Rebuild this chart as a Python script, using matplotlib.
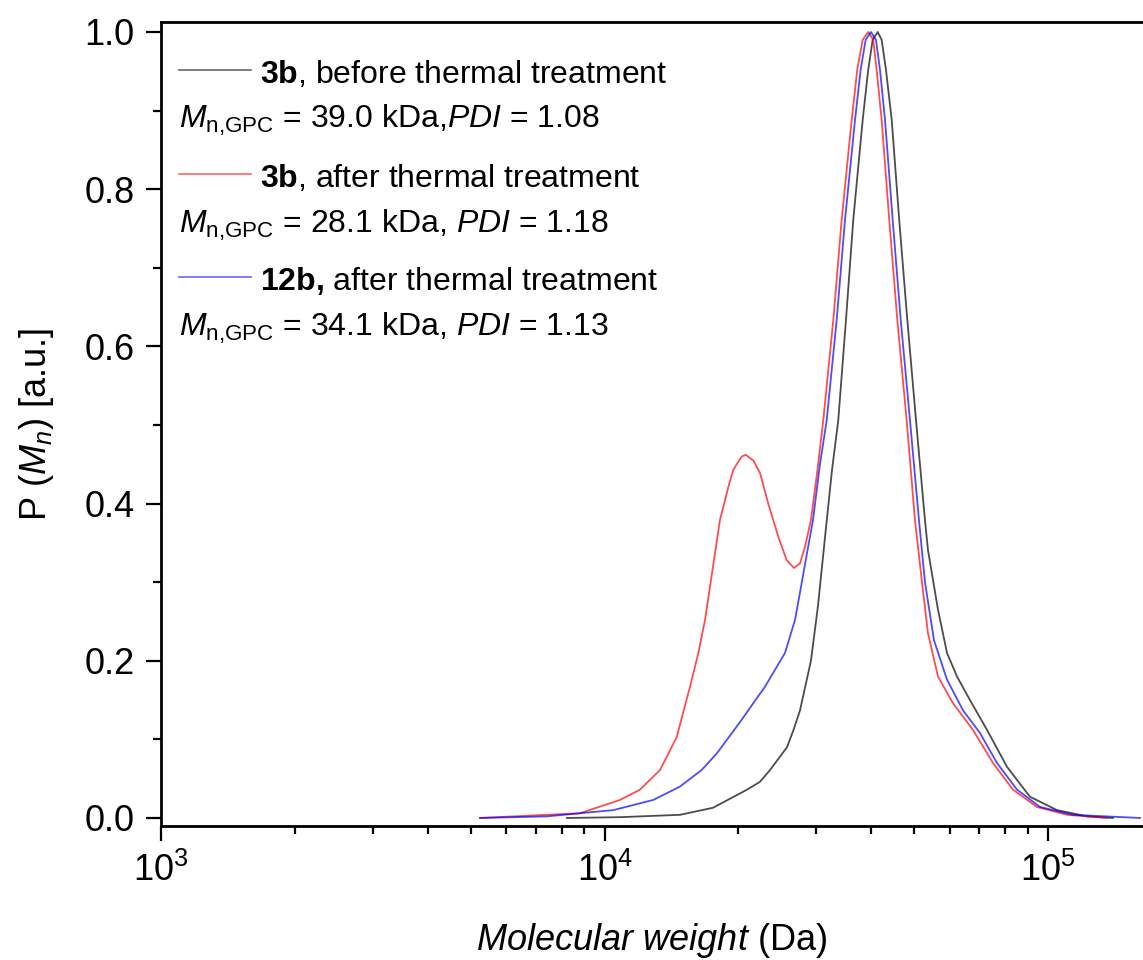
import matplotlib

matplotlib.use("Agg")
import matplotlib.pyplot as plt
from matplotlib.ticker import LogLocator, MultipleLocator, NullFormatter

plt.rcParams["font.family"] = ["Liberation Sans", "DejaVu Sans"]
plt.rcParams["mathtext.fontset"] = "custom"
plt.rcParams["mathtext.rm"] = "Liberation Sans"
plt.rcParams["mathtext.it"] = "Liberation Sans:italic"
plt.rcParams["mathtext.bf"] = "Liberation Sans:bold"

# molecular weight (Da) and normalised distribution
MW_3B_BEFORE = [8230, 10840, 14800, 17570, 20960, 22420, 23620, 25790, 26680, 27600,
                29210, 30300, 31420, 32590, 33660, 35040, 36390, 38210, 39330, 40240,
                41300, 42170, 43120, 44430, 46190, 48170, 50400, 52800, 53630, 56490,
                59200, 62350, 66700, 72880, 80850, 91070, 104800, 122400, 140100]
P_3B_BEFORE = [0.000, 0.001, 0.004, 0.013, 0.036, 0.046, 0.061, 0.090, 0.112, 0.137,
               0.200, 0.270, 0.357, 0.443, 0.506, 0.634, 0.761, 0.888, 0.952, 0.990,
               1.000, 0.990, 0.952, 0.888, 0.761, 0.634, 0.506, 0.379, 0.341, 0.265,
               0.210, 0.180, 0.150, 0.112, 0.065, 0.027, 0.010, 0.002, 0.000]

MW_3B_AFTER = [5240, 8805, 10840, 12020, 13340, 14550, 15590, 16280, 16850, 17290,
               17750, 18210, 19020, 19520, 20390, 20820, 21650, 22420, 23400, 24650,
               25750, 26750, 27600, 28320, 29210, 30220, 31140, 32810, 34260, 36090,
               37150, 38210, 39330, 40360, 41080, 42170, 43860, 45730, 48010, 50130,
               51990, 53630, 56490, 61070, 67750, 75170, 83420, 94460, 110400, 135800]
P_3B_AFTER = [0.000, 0.006, 0.023, 0.036, 0.061, 0.103, 0.167, 0.210, 0.252, 0.294,
              0.337, 0.379, 0.421, 0.443, 0.460, 0.462, 0.455, 0.439, 0.400, 0.358,
              0.328, 0.318, 0.324, 0.345, 0.379, 0.443, 0.506, 0.634, 0.761, 0.888,
              0.952, 0.990, 1.000, 0.990, 0.952, 0.888, 0.761, 0.634, 0.506, 0.379,
              0.300, 0.235, 0.180, 0.146, 0.112, 0.070, 0.036, 0.014, 0.004, 0.000]

MW_12B_AFTER = [5240, 7408, 10470, 12890, 14800, 16560, 17910, 20390, 21650, 23010,
                25530, 26890, 27740, 28620, 29520, 30610, 31700, 33390, 34860, 36720,
                37810, 38810, 39890, 40940, 41800, 42910, 44650, 46550, 48850, 51180,
                52800, 55340, 59200, 64320, 70270, 76740, 85170, 95940, 113900, 161200]
P_12B_AFTER = [0.000, 0.002, 0.010, 0.023, 0.040, 0.061, 0.082, 0.125, 0.146, 0.167,
               0.210, 0.252, 0.294, 0.337, 0.379, 0.450, 0.506, 0.634, 0.761, 0.888,
               0.952, 0.990, 1.000, 0.990, 0.952, 0.888, 0.761, 0.634, 0.506, 0.379,
               0.300, 0.226, 0.176, 0.137, 0.108, 0.070, 0.036, 0.014, 0.004, 0.000]

SERIES = [
    (MW_3B_BEFORE, P_3B_BEFORE, "#000000",
     r"$\mathbf{3b}$, before thermal treatment",
     r"$M_{\mathrm{n{,}GPC}}$ = 39.0 kDa,$PDI$ = 1.08"),
    (MW_3B_AFTER, P_3B_AFTER, "#ff0000",
     r"$\mathbf{3b}$, after thermal treatment",
     r"$M_{\mathrm{n{,}GPC}}$ = 28.1 kDa, $PDI$ = 1.18"),
    (MW_12B_AFTER, P_12B_AFTER, "#0000ff",
     r"$\mathbf{12b{,}}$ after thermal treatment",
     r"$M_{\mathrm{n{,}GPC}}$ = 34.1 kDa, $PDI$ = 1.13"),
]

fig = plt.figure(figsize=(11.43, 9.6), dpi=100)
ax = fig.add_axes([0.1409, 0.1396, 0.8591, 0.8375])

for mw, p, color, _, _ in SERIES:
    ax.plot(mw, p, color=color, lw=1.3, alpha=0.7, solid_joinstyle="round")

ax.set_xscale("log")
ax.set_xlim(1000, 163800)
ax.set_ylim(-0.0102, 1.0127)

ax.xaxis.set_major_locator(LogLocator(base=10))
ax.xaxis.set_minor_locator(LogLocator(base=10, subs=range(2, 10)))
ax.xaxis.set_minor_formatter(NullFormatter())
ax.yaxis.set_major_locator(MultipleLocator(0.2))
ax.yaxis.set_minor_locator(MultipleLocator(0.1))
ax.yaxis.set_major_formatter(plt.FuncFormatter(lambda v, _: f"{v:.1f}"))

ax.spines["right"].set_visible(False)
for s in ("left", "bottom", "top"):
    ax.spines[s].set_linewidth(2.0)
ax.tick_params(which="major", direction="out", length=11, width=1.6, labelsize=26, pad=8)
ax.tick_params(which="minor", direction="out", length=6, width=1.6)
ax.tick_params(top=False, right=False, which="both")

ax.set_xlabel(r"$Molecular\ weight$ (Da)", fontsize=26)
ax.xaxis.set_label_coords(0.5, -0.118)
ax.set_ylabel(r"P ($M_n$) [a.u.]", fontsize=26)
ax.yaxis.set_label_coords(-0.107, 0.5)

# hand-made legend: handle + label, then the Mn / PDI line under it
label_y = [0.924, 0.795, 0.667]
mn_y = [0.868, 0.738, 0.609]
for (mw, p, color, label, mn), ly, my in zip(SERIES, label_y, mn_y):
    ax.plot([0.0183, 0.0917], [ly + 0.016, ly + 0.016], transform=ax.transAxes,
            color=color, lw=1.2, alpha=0.6)
    ax.text(0.1008, ly, label, transform=ax.transAxes, fontsize=23, va="baseline")
    ax.text(0.0183, my, mn, transform=ax.transAxes, fontsize=23, va="baseline")

fig.savefig("out.png", dpi=100)
